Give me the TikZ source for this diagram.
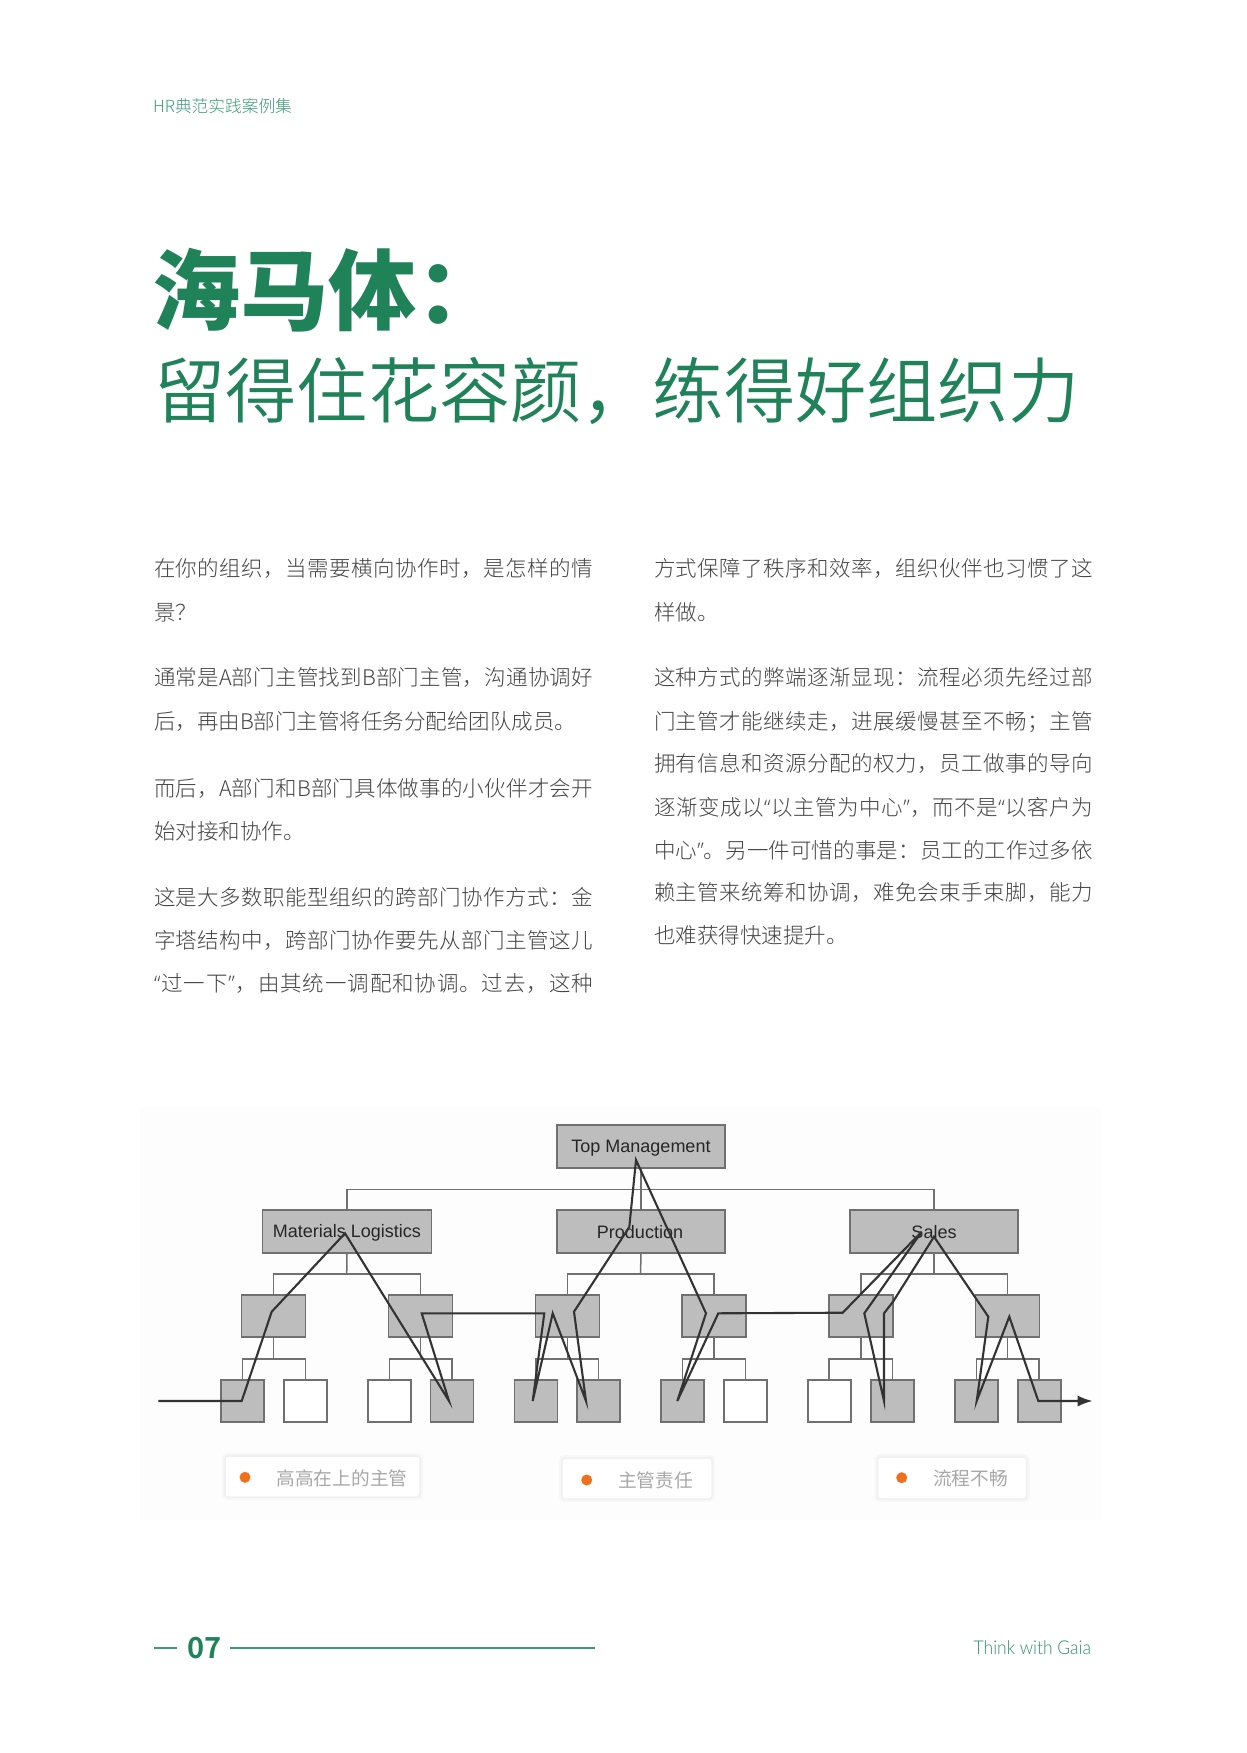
\documentclass[tikz,border=0pt]{standalone}
\usepackage{fontspec}
\usetikzlibrary{arrows.meta}
\setmainfont{Liberation Sans}
\newfontfamily\cjkreg{Noto Sans CJK SC}
\newfontfamily\cjkdemi{Noto Sans CJK SC DemiLight}
\newfontfamily\cjklight{Noto Sans CJK SC Light}
\newfontfamily\cjkheavy{Noto Sans CJK SC Black}
\newfontfamily\qfont{Open Sans Light}
\newfontfamily\latlight{Lato Light}[FakeStretch=0.92]
\newfontfamily\numfont{Noto Sans CJK SC Bold}
\definecolor{gaia}{HTML}{1F8259}
\definecolor{gaialt}{HTML}{3C9B78}
\definecolor{gaiamid}{HTML}{2F8F6C}
\definecolor{bodyc}{HTML}{444444}
\definecolor{boxg}{HTML}{BDBDBD}
\definecolor{edgeg}{HTML}{707070}
\definecolor{routec}{HTML}{333333}
\definecolor{labelc}{HTML}{262626}
\definecolor{dotc}{HTML}{F0701E}
\definecolor{cardtxt}{HTML}{A8A8A8}
\newcommand{\oqt}{{\qfont “}}
\newcommand{\cqt}{{\qfont ”}}
% spreads the characters of one line evenly over the column width
\def\spreadwalk#1#2{#1\ifx\relax#2\else\hskip 0pt plus 1fil\expandafter\spreadwalk\fi #2}
\newcommand{\jl}[1]{\makebox[439pt][s]{\spreadwalk #1\relax}}
\tikzset{
  x=1pt,y=-1pt,
  txt/.style={inner sep=0pt,outer sep=0pt},
  bodybase/.style={txt,anchor=base west,text=bodyc,font=\cjklight\fontsize{21.5}{24}\selectfont},
  bodyjust/.style={bodybase},
  bodyfree/.style={bodybase},
  title/.style={txt,anchor=base west,text=gaia,font=\cjkheavy\fontsize{88}{90}\selectfont},
  subtitle/.style={txt,anchor=base west,text=gaia,font=\cjkdemi\fontsize{71.2}{74}\selectfont},
  rule/.style={draw=gaialt,line width=1.5pt},
  bigbox/.style={draw=edgeg,fill=boxg,line width=1.6pt,inner sep=0pt,minimum height=43pt},
  midbox/.style={draw=edgeg,fill=boxg,line width=1.6pt,inner sep=0pt,minimum width=64pt,minimum height=42pt},
  leafg/.style={draw=edgeg,fill=boxg,line width=1.6pt,inner sep=0pt,minimum width=43pt,minimum height=42.5pt},
  leafw/.style={leafg,fill=white},
  tree/.style={draw=edgeg,line width=1.5pt},
  route/.style={draw=routec,line width=2.1pt,line join=miter,miter limit=10},
  boxlabel/.style={txt,text=labelc,font=\fontsize{18}{20}\selectfont},
  card/.style={draw=black!6,line width=1.5pt,fill=white,rounded corners=3pt,inner sep=0pt,
    preaction={draw=black!3,line width=6pt,rounded corners=3pt}},
  dotm/.style={circle,fill=dotc,inner sep=0pt,minimum size=11pt},
  cardtext/.style={txt,anchor=west,text=cardtxt,font=\cjkreg\fontsize{18.7}{20}\selectfont},
}
\begin{document}
\begin{tikzpicture}
\useasboundingbox (0,0) rectangle (1247,1753);
\fill[white] (0,0) rectangle (1247,1753);

% header and title
\node[txt,anchor=west,text=gaialt,font=\cjklight\fontsize{16.7}{18}\selectfont] (hdr) at (153,106) {HR典范实践案例集};
\node[title] (t1) at (152,323) {海马体：};
\node[subtitle] (t2) at (154.5,417) {留得住花容颜，练得好组织力};

% left column
\node[bodyjust] (a1) at (154,576) {\jl{在你的组织，当需要横向协作时，是怎样的情}};
\node[bodyfree] (a2) at (154,620) {景？};
\node[bodyjust] (a3) at (154,685) {\jl{通常是A部门主管找到B部门主管，沟通协调好}};
\node[bodyfree] (a4) at (154,729) {后，再由B部门主管将任务分配给团队成员。};
\node[bodyjust] (a5) at (154,796) {\jl{而后，A部门和B部门具体做事的小伙伴才会开}};
\node[bodyfree] (a6) at (154,839) {始对接和协作。};
\node[bodyjust] (a7) at (154,905) {\jl{这是大多数职能型组织的跨部门协作方式：金}};
\node[bodyjust] (a8) at (154,948) {\jl{字塔结构中，跨部门协作要先从部门主管这儿}};
\node[bodyjust] (a9) at (154,991) {\jl{\oqt 过一下\cqt ，由其统一调配和协调。过去，这种}};

% right column
\node[bodyjust] (b1) at (654,576) {\jl{方式保障了秩序和效率，组织伙伴也习惯了这}};
\node[bodyfree] (b2) at (654,620) {样做。};
\node[bodyjust] (b3) at (654,685) {\jl{这种方式的弊端逐渐显现：流程必须先经过部}};
\node[bodyjust] (b4) at (654,729) {\jl{门主管才能继续走，进展缓慢甚至不畅；主管}};
\node[bodyjust] (b5) at (654,771) {\jl{拥有信息和资源分配的权力，员工做事的导向}};
\node[bodyjust] (b6) at (654,815) {\jl{逐渐变成以\oqt 以主管为中心\cqt ，而不是\oqt 以客户为}};
\node[bodyjust] (b7) at (654,858) {\jl{中心\cqt 。另一件可惜的事是：员工的工作过多依}};
\node[bodyjust] (b8) at (654,900) {\jl{赖主管来统筹和协调，难免会束手束脚，能力}};
\node[bodyfree] (b9) at (654,943) {也难获得快速提升。};

% diagram panel
\fill[black!0.6] (140,1107) rectangle (1101,1520);

% coordinates of the buses
\coordinate (bus0) at (640.5,1189.5);
\coordinate (busM) at (346.7,1274);
\coordinate (busP) at (640.5,1274);
\coordinate (busS) at (934,1274);

% boxes
\node[bigbox,minimum width=168pt] (tm) at (641,1146.5) {};
\node[bigbox,minimum width=169pt] (mat) at (347,1231.5) {};
\node[bigbox,minimum width=168pt] (prod) at (641,1231.5) {};
\node[bigbox,minimum width=168pt] (sales) at (934,1231.5) {};

\node[midbox] (m1) at (273.5,1316) {};
\node[midbox] (m2) at (420.5,1316) {};
\node[midbox] (m3) at (567.5,1316) {};
\node[midbox] (m4) at (714,1316) {};
\node[midbox] (m5) at (861,1316) {};
\node[midbox] (m6) at (1007.5,1316) {};

\node[leafg] (l1) at (242.3,1401) {};
\node[leafw] (l2) at (305.3,1401) {};
\node[leafw] (l3) at (389.3,1401) {};
\node[leafg] (l4) at (452,1401) {};
\node[leafg] (l5) at (535.8,1401) {};
\node[leafg] (l6) at (598.7,1401) {};
\node[leafg] (l7) at (682.7,1401) {};
\node[leafw] (l8) at (745.7,1401) {};
\node[leafw] (l9) at (829.2,1401) {};
\node[leafg] (l10) at (892.5,1401) {};
\node[leafg] (l11) at (976.3,1401) {};
\node[leafg] (l12) at (1039.2,1401) {};

% tree connectors
\draw[tree] (tm.south) -- (prod.north);
\draw[tree] (mat.north) |- (bus0) -| (sales.north);
\draw[tree] (mat.south) -- (busM);
\draw[tree] (prod.south) -- (busP);
\draw[tree] (sales.south) -- (busS);
\draw[tree] (m1.north) |- (busM) -| (m2.north);
\draw[tree] (m3.north) |- (busP) -| (m4.north);
\draw[tree] (m5.north) |- (busS) -| (m6.north);
\foreach \mid/\la/\lb in {m1/l1/l2,m2/l3/l4,m3/l5/l6,m4/l7/l8,m5/l9/l10,m6/l11/l12}{
  \coordinate (bus\mid) at (\mid.south |- 0,1359);
  \draw[tree] (\mid.south) -- (bus\mid);
  \draw[tree] (\la.north) |- (bus\mid) -| (\lb.north);
}

% box labels
\node[boxlabel] (tmL) at (641,1148) {Top Management};
\node[boxlabel] (matL) at (347,1233) {Materials Logistics};
\node[boxlabel] (prodL) at (640,1232) {Production};
\node[boxlabel] (salesL) at (934,1232) {Sales};

% process route
\coordinate (r0) at (158.3,1401);
\coordinate (r1) at (241.7,1401);
\coordinate (r2) at (271.7,1311.7);
\coordinate (r3) at (345,1233.3);
\coordinate (r4) at (449,1401);
\coordinate (r5) at (421.7,1313.3);
\coordinate (r6) at (544.3,1313.3);
\coordinate (r7) at (532.7,1401);
\coordinate (r8) at (552.7,1313.3);
\coordinate (r9) at (586,1401);
\coordinate (r10) at (574,1311.7);
\coordinate (r11) at (629.3,1227);
\coordinate (r12) at (636,1160);
\coordinate (r13) at (706,1313.3);
\coordinate (r14) at (677.3,1401);
\coordinate (r15) at (718.3,1313.3);
\coordinate (r16) at (842.7,1312.7);
\coordinate (r17) at (921.7,1231.7);
\coordinate (r18) at (864.3,1313.3);
\coordinate (r19) at (884,1401);
\coordinate (r20) at (884,1313.3);
\coordinate (r21) at (893,1301.7);
\coordinate (r22) at (934,1236.7);
\coordinate (r23) at (988.3,1316.7);
\coordinate (r24) at (976.7,1401);
\coordinate (r25) at (1009.3,1316.7);
\coordinate (r26) at (1038.3,1401);
\coordinate (r27) at (1092.7,1401);
\draw[route,-{Latex[length=15pt,width=11pt]}] (r0) -- (r1) -- (r2) -- (r3) -- (r4) -- (r5) -- (r6) -- (r7) -- (r8) -- (r9) -- (r10) -- (r11) -- (r12) -- (r13) -- (r14) -- (r15) -- (r16) -- (r17) -- (r18) -- (r19) -- (r20) -- (r21) -- (r22) -- (r23) -- (r24) -- (r25) -- (r26) -- (r27);

% cards
\node[card,minimum width=195pt,minimum height=41pt] (c1) at (322.5,1476.5) {};
\node[dotm] (d1) at (245,1477.3) {};
\node[cardtext] (c1t) at (276.5,1478) {高高在上的主管};
\node[card,minimum width=150pt,minimum height=41pt] (c2) at (637,1478.5) {};
\node[dotm] (d2) at (586.7,1480) {};
\node[cardtext] (c2t) at (618,1480) {主管责任};
\node[card,minimum width=149pt,minimum height=42pt] (c3) at (952,1478) {};
\node[dotm] (d3) at (901.7,1477.7) {};
\node[cardtext] (c3t) at (933,1478) {流程不畅};

% footer
\coordinate (f1) at (154,1648);
\coordinate (f2) at (177,1648);
\coordinate (f3) at (230,1648);
\coordinate (f4) at (595,1648);
\draw[rule] (f1) -- (f2);
\draw[rule] (f3) -- (f4);
\node[txt,anchor=base west,text=gaia,font=\numfont\fontsize{29}{30}\selectfont] (pg) at (187,1658.5) {07};
\node[txt,anchor=base east,text=gaiamid,font=\latlight\fontsize{19}{20}\selectfont] (ft) at (1091,1654) {Think with Gaia};
\end{tikzpicture}
\end{document}
